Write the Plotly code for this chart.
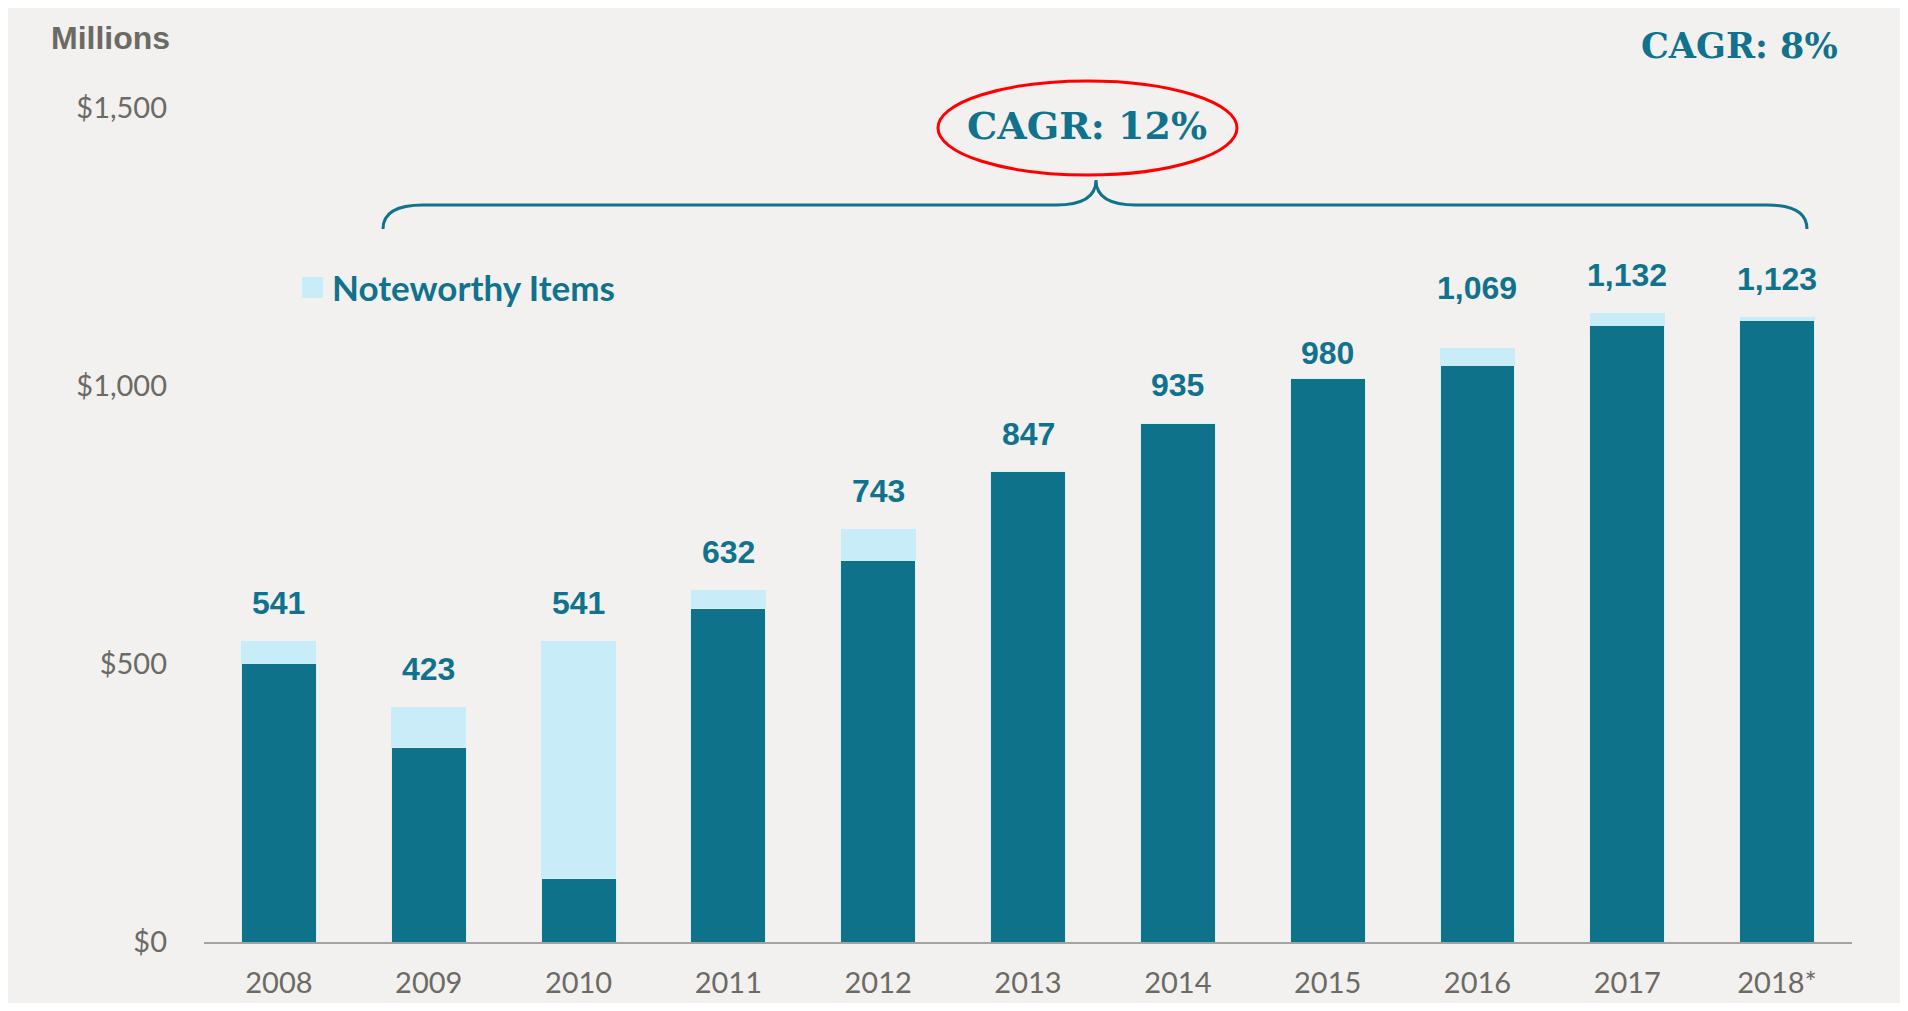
import plotly.graph_objects as go

# data (USD millions)
years = ["2008", "2009", "2010", "2011", "2012", "2013", "2014", "2015", "2016", "2017", "2018*"]
core_values = [500, 350, 115, 600, 685, 845, 933, 1013, 1036, 1108, 1117]
noteworthy_values = [41, 73, 426, 32, 58, 0, 0, 0, 32, 23, 6]
label_text = ["541", "423", "541", "632", "743", "847", "935", "980", "1,069", "1,132", "1,123"]
y_ticks = [0, 500, 1000, 1500]
y_tick_text = ["$0", "$500", "$1,000", "$1,500"]

DARK = "#0F728B"
LIGHT = "#C9EDF8"
TEAL_TEXT = "#10728C"
GREY_TEXT = "#6B6A64"
BG = "#F2F1EF"

# value labels in the original are not all the same distance above their bars
LABEL_NUDGE = {"2015": -12, "2016": 22}

# the page body adds an 8px margin, so the figure sits at (8, 8) in the screenshot
OFF = 8
W, H = 1892, 995
M_L, M_T = 204 - OFF, 52 - OFF
M_R = W - (1852 - OFF)
M_B = H - (942 - OFF)
PLOT_W = W - M_L - M_R
PLOT_H = H - M_T - M_B


def px(x):
    # screenshot pixel x -> paper fraction
    return (x - OFF - M_L) / PLOT_W


def py(y):
    # screenshot pixel y -> paper fraction
    return (H - M_B - (y - OFF)) / PLOT_H


def pt(x, y):
    return f"{px(x):.5f},{py(y):.5f}"


fig = go.Figure()
fig.add_trace(
    go.Bar(
        x=years,
        y=core_values,
        name="Core",
        marker={"color": DARK, "line": {"color": "#DDEFF3", "width": 1}},
        width=0.5,
        showlegend=False,
    )
)
fig.add_trace(
    go.Bar(
        x=years,
        y=noteworthy_values,
        name="Noteworthy Items",
        marker={"color": LIGHT, "line": {"width": 0}},
        width=0.5,
        showlegend=False,
    )
)

totals = [c + n for c, n in zip(core_values, noteworthy_values)]
for i, (year, total, text) in enumerate(zip(years, totals, label_text)):
    fig.add_annotation(
        x=i,
        y=total,
        text=text,
        showarrow=False,
        yanchor="bottom",
        yshift=18 + LABEL_NUDGE.get(year, 0),
        font={"family": "Liberation Sans", "size": 32, "color": TEAL_TEXT, "weight": "bold"},
    )

# legend swatch + text
fig.add_shape(
    type="rect",
    xref="paper",
    yref="paper",
    x0=px(302),
    x1=px(323),
    y0=py(298),
    y1=py(277),
    fillcolor=LIGHT,
    line={"width": 0},
)
fig.add_annotation(
    xref="paper",
    yref="paper",
    x=px(330),
    y=py(287),
    xanchor="left",
    yanchor="middle",
    text="Noteworthy Items",
    showarrow=False,
    font={"family": "Lato", "size": 35, "color": TEAL_TEXT, "weight": "bold"},
)

fig.add_annotation(
    xref="paper",
    yref="paper",
    x=px(49),
    y=py(38),
    xanchor="left",
    yanchor="middle",
    text="Millions",
    showarrow=False,
    font={"family": "Liberation Sans", "size": 32, "color": GREY_TEXT, "weight": "bold"},
)

fig.add_annotation(
    xref="paper",
    yref="paper",
    x=px(1739),
    y=py(46),
    xanchor="center",
    yanchor="middle",
    text="CAGR: 8%",
    showarrow=False,
    font={"family": "DejaVu Serif", "size": 35, "color": TEAL_TEXT, "weight": "bold"},
)
fig.add_annotation(
    xref="paper",
    yref="paper",
    x=px(1087),
    y=py(125),
    xanchor="center",
    yanchor="middle",
    text="CAGR: 12%",
    showarrow=False,
    font={"family": "DejaVu Serif", "size": 38, "color": TEAL_TEXT, "weight": "bold"},
)

# red ellipse around the 12% label
fig.add_shape(
    type="circle",
    xref="paper",
    yref="paper",
    x0=px(938),
    x1=px(1237),
    y0=py(175),
    y1=py(81),
    line={"color": "#FF0000", "width": 3},
)

# curly brace over 2009-2018
brace = (
    f"M {pt(383, 229)} Q {pt(383, 205)} {pt(423, 205)} "
    f"L {pt(1056, 205)} Q {pt(1096, 205)} {pt(1096, 180)} "
    f"Q {pt(1096, 205)} {pt(1136, 205)} "
    f"L {pt(1767, 205)} Q {pt(1807, 205)} {pt(1807, 229)}"
)
fig.add_shape(
    type="path",
    xref="paper",
    yref="paper",
    path=brace,
    line={"color": "#10728C", "width": 3},
)

fig.update_layout(
    width=W,
    height=H,
    barmode="stack",
    paper_bgcolor=BG,
    plot_bgcolor=BG,
    margin={"l": M_L, "r": M_R, "t": M_T, "b": M_B, "autoexpand": False},
    showlegend=False,
    xaxis={
        "type": "category",
        "range": [-0.5, 10.5],
        "automargin": False,
        "showline": True,
        "linecolor": "#A3A3A3",
        "linewidth": 2,
        "showgrid": False,
        "ticks": "",
        "ticklabelstandoff": 14,
        "tickfont": {"family": "Lato", "size": 29, "color": GREY_TEXT},
    },
    yaxis={
        "range": [0, 1600],
        "automargin": False,
        "showgrid": False,
        "zeroline": False,
        "showline": False,
        "tickvals": y_ticks,
        "ticktext": y_tick_text,
        "ticks": "",
        "ticklabelstandoff": 36,
        "tickfont": {"family": "Lato", "size": 29, "color": GREY_TEXT},
    },
)

fig.write_html("out.html")
